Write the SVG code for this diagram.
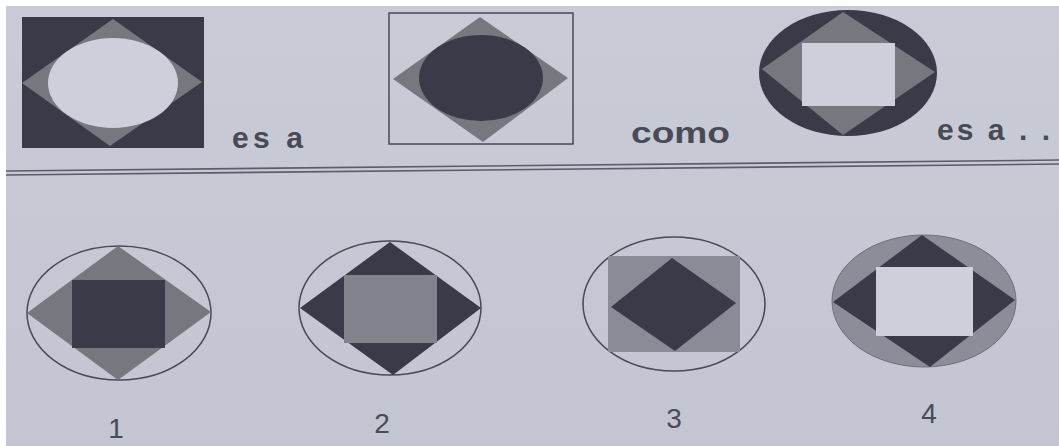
<svg xmlns="http://www.w3.org/2000/svg" width="1059" height="446" viewBox="0 0 1059 446">
<defs>
<style>
.dark{fill:#3b3a48}
.mid{fill:#77777f}
.light{fill:#cdcfda}
.outline{fill:none;stroke:#4a4a56;stroke-width:1.5}
.txt{font-family:"Liberation Sans",Arial,sans-serif;fill:#4a4a56;font-size:30px;font-weight:bold}
.num{font-family:"Liberation Sans",Arial,sans-serif;fill:#4a4a56;font-size:28px;text-anchor:middle}
</style>
<linearGradient id="bg" x1="0" y1="0" x2="0" y2="1">
<stop offset="0" stop-color="#c9cbd7"/>
<stop offset="1" stop-color="#c3c5d2"/>
</linearGradient>
</defs>
<rect width="1059" height="446" fill="#ffffff"/>
<rect x="6" y="6" width="1053" height="440" fill="url(#bg)"/>

<g id="figA">
<rect class="dark" x="22" y="17" width="182" height="131"/>
<polygon class="mid" points="113,19 202,82 110,146 22,83"/>
<ellipse class="light" cx="113" cy="83" rx="65" ry="45"/>
</g>
<text class="txt" x="232" y="148" textLength="71" lengthAdjust="spacing">es a</text>

<g id="figB">
<rect class="outline" x="389" y="13" width="184" height="131"/>
<polygon class="mid" points="480,17 568,78 483,142 393,79"/>
<ellipse class="dark" cx="481" cy="78" rx="62" ry="43"/>
</g>
<text class="txt" x="631" y="143" textLength="99" lengthAdjust="spacingAndGlyphs">como</text>

<g id="figC">
<ellipse class="dark" cx="848" cy="73" rx="89" ry="63"/>
<polygon class="mid" points="843,12 935,72 843,135 762,69"/>
<rect class="light" x="802" y="43" width="93" height="63"/>
</g>
<text class="txt" x="937" y="140" textLength="113" lengthAdjust="spacing">es a . .</text>

<g id="separator" stroke="#5c5d6a" stroke-width="1.6" fill="none">
<line x1="6" y1="171" x2="1059" y2="160"/>
<line x1="6" y1="175" x2="1059" y2="164"/>
</g>

<g id="opt1">
<ellipse class="outline" cx="119" cy="313" rx="92" ry="67"/>
<polygon class="mid" points="118,246 211,312 118,380 27,313"/>
<rect class="dark" x="72" y="280" width="93" height="68"/>
<text class="num" x="116" y="438">1</text>
</g>

<g id="opt2">
<ellipse class="outline" cx="390" cy="308" rx="91" ry="67"/>
<polygon class="dark" points="390,242 481,308 393,375 300,308"/>
<rect x="344" y="275" width="93" height="68" style="fill:#82838d"/>
<text class="num" x="382" y="433">2</text>
</g>

<g id="opt3">
<ellipse class="outline" cx="674" cy="304" rx="91" ry="67"/>
<rect x="608" y="256" width="132" height="96" style="fill:#8a8b96"/>
<polygon class="dark" points="672,258 736,303 675,351 611,307"/>
<text class="num" x="674" y="428">3</text>
</g>

<g id="opt4">
<ellipse cx="924" cy="301" rx="92" ry="66" style="fill:#8c8d98;stroke:#6e6f7a;stroke-width:1"/>
<polygon class="dark" points="922,235 1015,300 930,367 833,302"/>
<rect class="light" x="876" y="267" width="97" height="69"/>
<text class="num" x="929" y="423">4</text>
</g>
</svg>
